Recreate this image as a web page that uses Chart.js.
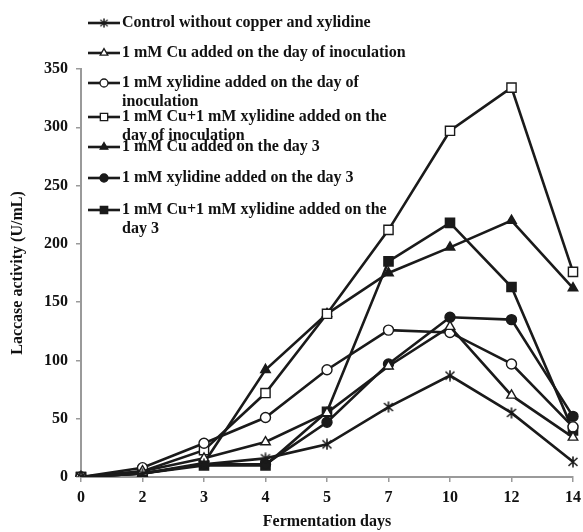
<!DOCTYPE html>
<html lang="en">
<head>
<meta charset="UTF-8">
<title>Laccase activity</title>
<style>
  body { margin: 0; background: #fff; }
  #wrap { width: 583px; height: 532px; }
</style>
</head>
<body>
<div id="wrap"><canvas id="myChart"></canvas></div>
<script src="https://cdn.jsdelivr.net/npm/chart.js"></script>
<script>
   const days = ['0', '2', '3', '4', '5', '7', '10', '12', '14'];

   const control  = [0, 3, 11, 16, 28, 60, 87, 55, 13];
   const cuDay0   = [0, 5, 16, 30, 55, 95, 129, 70, 34];
   const xyDay0   = [0, 8, 29, 51, 92, 126, 124, 97, 43];
   const cuXyDay0 = [0, 5, 23, 72, 140, 212, 297, 334, 176];
   const cuDay3   = [0, 3, 12, 92, 140, 175, 197, 220, 162];
   const xyDay3   = [0, 3, 11, 11, 47, 97, 137, 135, 52];
   const cuXyDay3 = [0, 3, 10, 10, 56, 185, 218, 163, 40];

   const seriesNames = [
      ['Control without copper and xylidine'],
      ['1 mM Cu added on the day of inoculation'],
      ['1 mM xylidine added on the day of', 'inoculation'],
      ['1 mM Cu+1 mM xylidine added on the', 'day of inoculation'],
      ['1 mM Cu added on the day 3'],
      ['1 mM xylidine added on the day 3'],
      ['1 mM Cu+1 mM xylidine added on the', 'day 3']
   ];

   const yMax = 350;
   const yStep = 50;

   const ink = '#1a1a1a';
   const axisGrey = '#9a9a9a';
   const serif = "'Liberation Serif', 'Times New Roman', serif";

   // asterisk marker (vertical bar + X)
   function makeAsterisk() {
      const c = document.createElement('canvas');
      c.width = 12; c.height = 12;
      const g = c.getContext('2d');
      g.strokeStyle = ink;
      g.lineWidth = 1.6;
      g.beginPath();
      g.moveTo(6, 0.5); g.lineTo(6, 11.5);
      g.moveTo(1.5, 2); g.lineTo(10.5, 10);
      g.moveTo(10.5, 2); g.lineTo(1.5, 10);
      g.stroke();
      return c;
   }
   const asterisk = makeAsterisk();

   const styles = [
      { pointStyle: asterisk, radius: 6, fill: ink },
      { pointStyle: 'triangle', radius: 5.5, fill: '#fff' },
      { pointStyle: 'circle', radius: 5, fill: '#fff' },
      { pointStyle: 'rect', radius: 6.5, fill: '#fff' },
      { pointStyle: 'triangle', radius: 5.5, fill: ink },
      { pointStyle: 'circle', radius: 5, fill: ink },
      { pointStyle: 'rect', radius: 6.5, fill: ink }
   ];

   const allValues = [control, cuDay0, xyDay0, cuXyDay0, cuDay3, xyDay3, cuXyDay3];

   const datasets = allValues.map((vals, i) => ({
      label: seriesNames[i].join(' '),
      data: vals,
      borderColor: ink,
      borderWidth: 2.6,
      pointStyle: styles[i].pointStyle,
      pointRadius: styles[i].radius,
      pointHoverRadius: styles[i].radius,
      pointBackgroundColor: styles[i].fill,
      pointBorderColor: ink,
      pointBorderWidth: 1.4,
      tension: 0,
      fill: false
   }));

   // legend drawn by hand so the wrapped labels sit like the original
   const legendRows = [23, 53, 83, 117, 147, 178, 210];
   const sideLegend = {
      id: 'sideLegend',
      afterDraw(chart) {
         const ctx = chart.ctx;
         ctx.save();
         ctx.font = 'bold 16px ' + serif;
         ctx.textBaseline = 'middle';
         datasets.forEach((ds, i) => {
            const y = legendRows[i];
            ctx.strokeStyle = ink;
            ctx.lineWidth = 2.6;
            ctx.beginPath();
            ctx.moveTo(88, y); ctx.lineTo(120, y);
            ctx.stroke();
            const st = styles[i];
            const r = st.radius * 0.8;
            ctx.fillStyle = st.fill;
            ctx.strokeStyle = ink;
            ctx.lineWidth = 1.3;
            if (st.pointStyle === asterisk) {
               ctx.drawImage(asterisk, 104 - 5, y - 5, 10, 10);
            } else {
               Chart.helpers.drawPoint(ctx, { pointStyle: st.pointStyle, radius: r, rotation: 0, borderWidth: 1.3 }, 104, y);
            }
            ctx.fillStyle = '#111';
            seriesNames[i].forEach((line, k) => {
               ctx.fillText(line, 122, y + k * 18.5);
            });
         });
         ctx.restore();
      }
   };

   const ctx = document.getElementById('myChart').getContext('2d');

   const myChart = new Chart(ctx, {
      type: 'line',
      data: { labels: days, datasets: datasets },
      options: {
         responsive: true,
         maintainAspectRatio: false,
         animation: false,
         layout: { padding: { top: 69, right: 10, left: 0, bottom: 0 } },
         scales: {
            x: {
               offset: false,
               grid: { display: true, drawOnChartArea: false, color: axisGrey, tickLength: 5, lineWidth: 1.5 },
               border: { color: axisGrey, width: 2 },
               ticks: { color: '#111', font: { family: serif, size: 16, weight: 'bold' }, padding: 6, maxRotation: 0 },
               title: { display: true, text: 'Fermentation days', color: '#111', font: { family: serif, size: 16, weight: 'bold' }, padding: { top: 0, bottom: 1 } },
               afterFit: s => { s.height = 55; s.paddingRight = 0; s.paddingLeft = 0; }
            },
            y: {
               min: 0,
               max: yMax,
               grid: { display: true, drawOnChartArea: false, color: axisGrey, tickLength: 5, lineWidth: 1.5 },
               border: { color: axisGrey, width: 2 },
               ticks: { stepSize: yStep, color: '#111', font: { family: serif, size: 16, weight: 'bold' }, padding: 8 },
               title: { display: true, text: 'Laccase activity (U/mL)', color: '#111', font: { family: serif, size: 16, weight: 'bold' }, padding: { top: 8, bottom: 0 } },
               afterFit: s => { s.width = 81; }
            }
         },
         plugins: {
            legend: { display: false },
            tooltip: { enabled: false }
         }
      },
      plugins: [sideLegend]
   });
</script>
</body>
</html>
